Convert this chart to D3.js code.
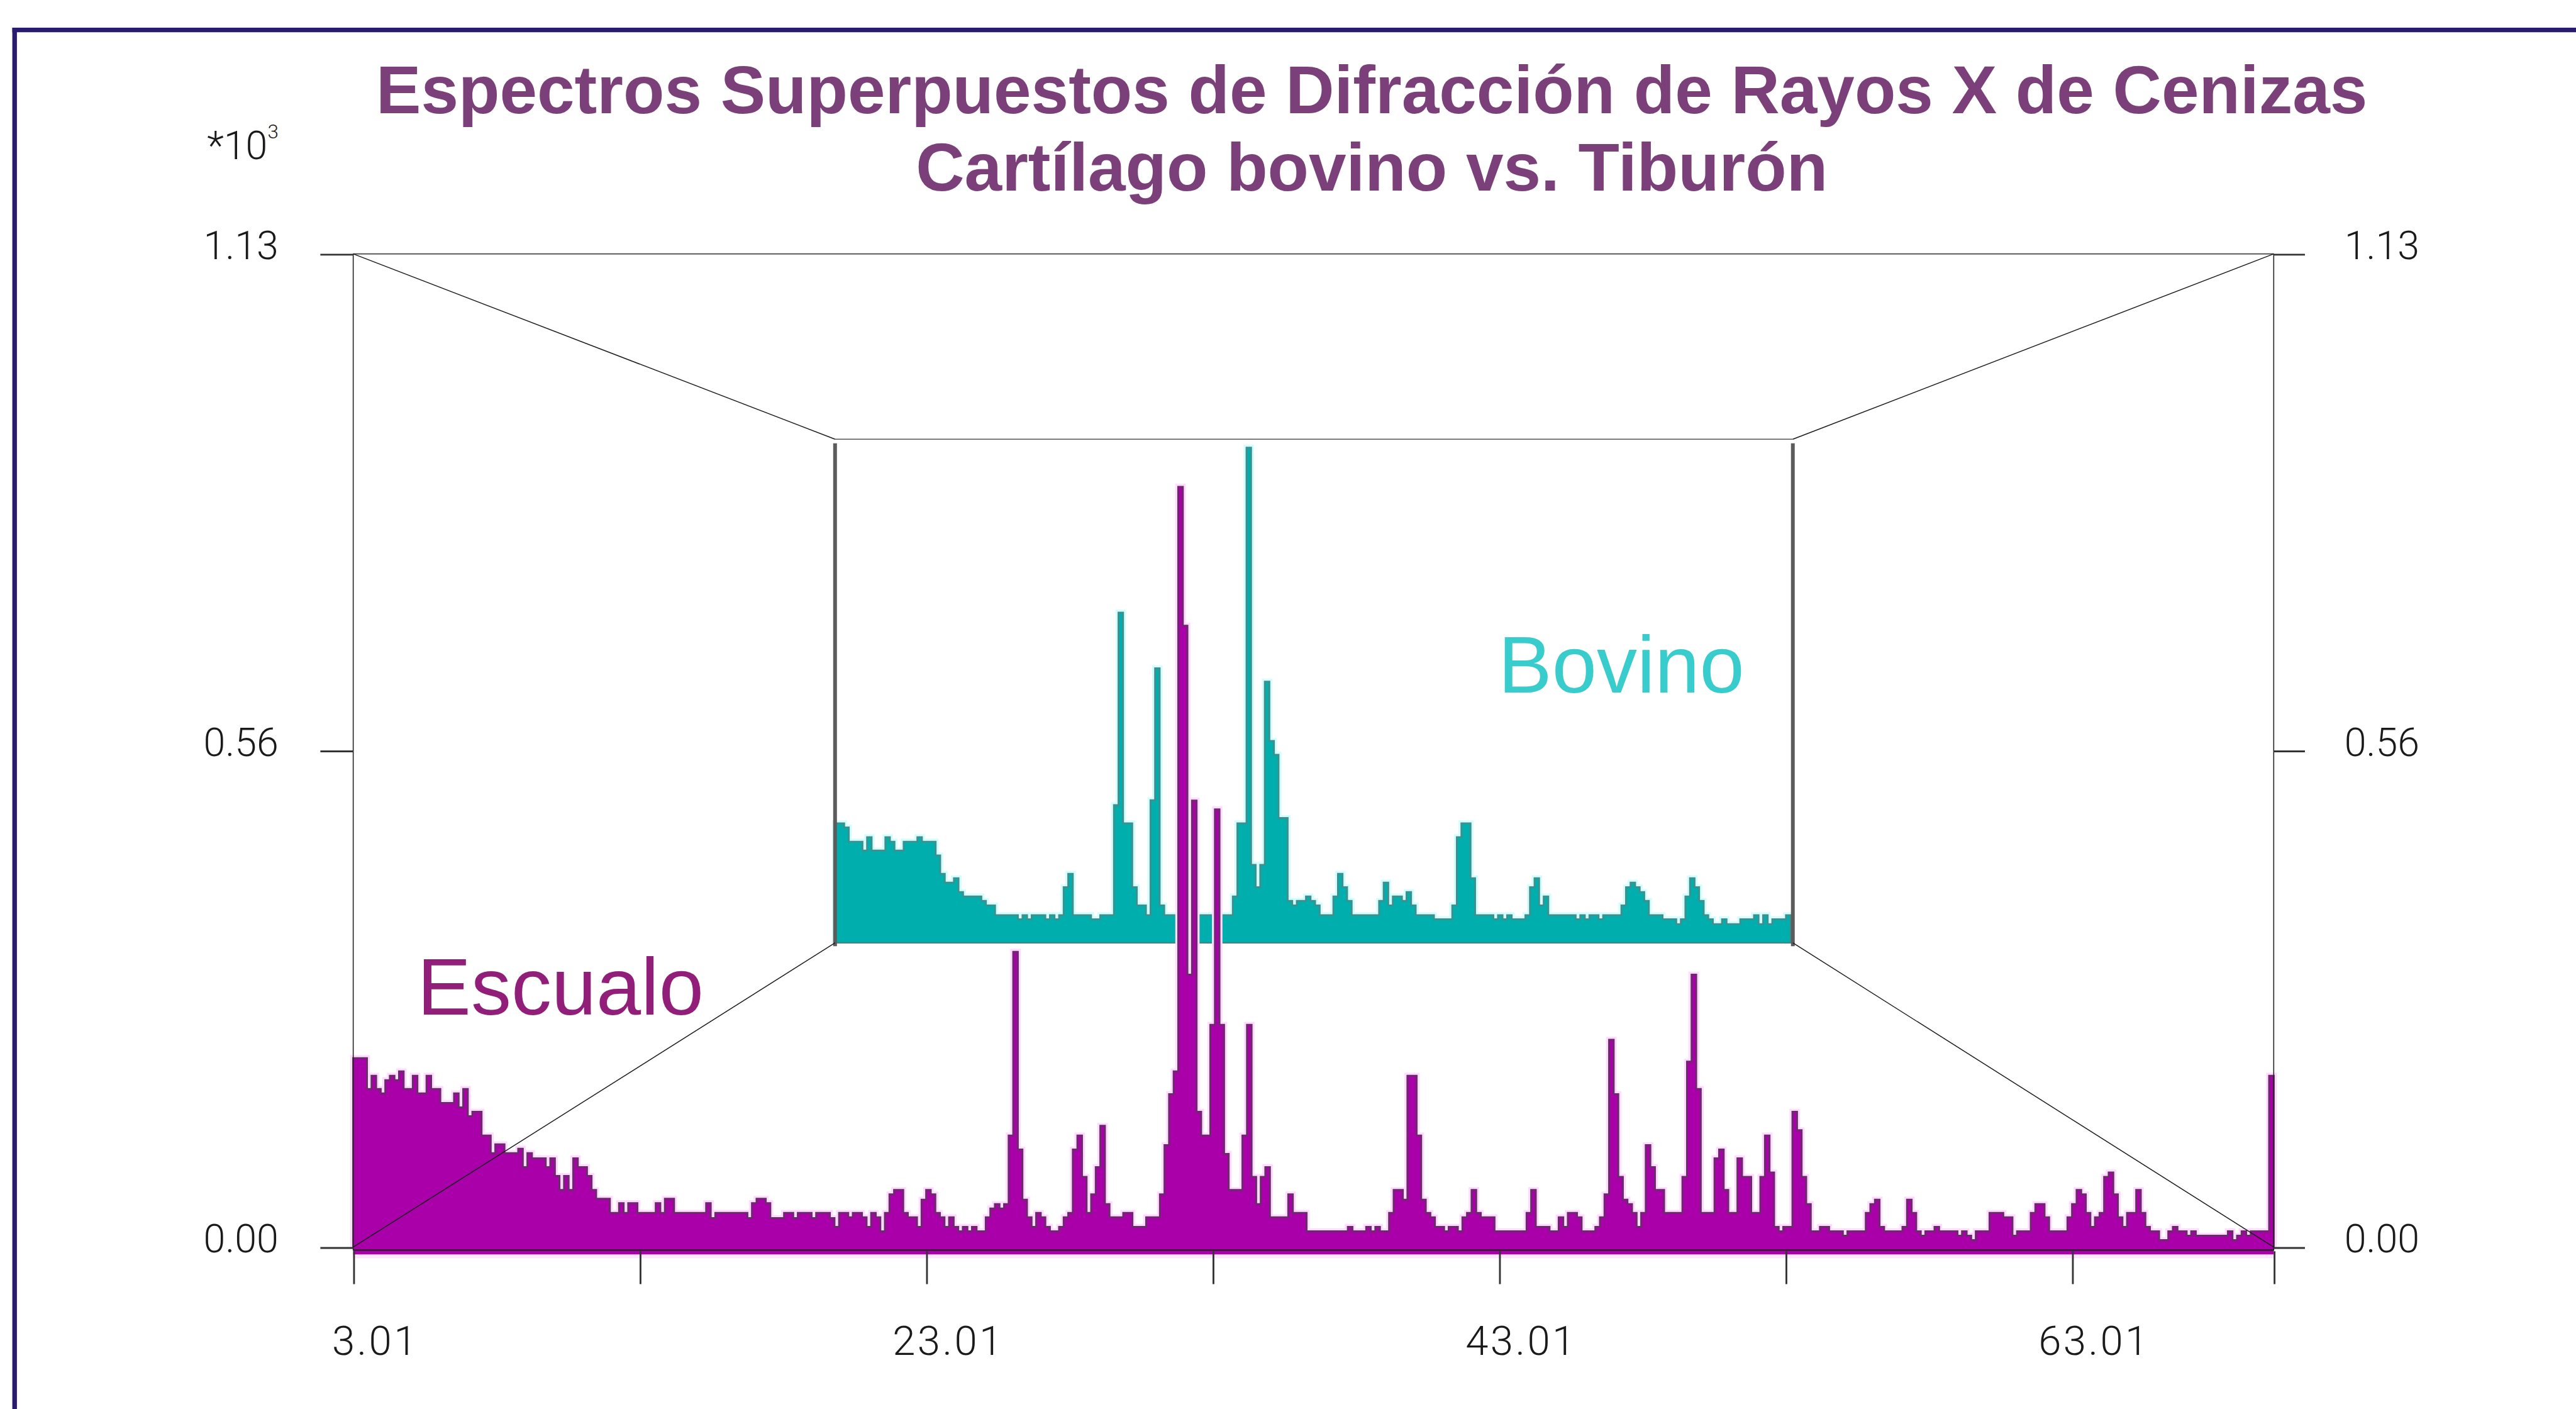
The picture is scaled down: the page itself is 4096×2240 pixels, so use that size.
<!DOCTYPE html>
<html>
<head>
<meta charset="utf-8">
<script src="https://cdn.jsdelivr.net/npm/d3@7"></script>
<style>
  html, body { margin: 0; padding: 0; background: #ffffff; overflow: hidden; }
  svg { display: block; }
</style>
</head>
<body>
<svg id="chart" width="4096" height="2240"></svg>
<script>
// ---- 2-theta sampling ----
const twoThetaStart = 3.01;
const twoThetaEnd = 70.05;
const escualoStep = 0.16;   // degrees per channel, front spectrum
const bovinoStep = 0.32;    // degrees per channel, rear spectrum

// ---- intensities (counts x 10^3) ----
const escualo = [
  .215,.215,.215,.180,.195,.180,.175,.190,.195,.190,.200,.180,.180,.195,.175,.175,.195,.180,.180,.164,
  .164,.164,.175,.159,.180,.149,.154,.154,.127,.127,.107,.117,.117,.107,.107,.107,.112,.091,.107,.101,
  .101,.101,.091,.101,.081,.065,.081,.065,.101,.091,.091,.081,.065,.055,.055,.055,.039,.039,.050,.039,
  .050,.050,.039,.039,.039,.039,.050,.039,.055,.055,.039,.039,.039,.039,.039,.039,.039,.050,.033,.039,
  .039,.039,.039,.039,.039,.039,.033,.050,.055,.055,.050,.033,.033,.033,.039,.039,.033,.039,.039,.039,
  .033,.039,.039,.039,.033,.023,.039,.039,.034,.039,.039,.034,.023,.039,.034,.018,.039,.060,.065,.065,
  .039,.034,.034,.023,.054,.065,.060,.039,.034,.023,.034,.023,.018,.023,.018,.023,.018,.018,.034,.044,
  .049,.044,.049,.127,.336,.111,.054,.034,.023,.039,.034,.023,.018,.018,.023,.034,.039,.111,.127,.080,
  .039,.060,.091,.138,.049,.034,.034,.034,.039,.039,.023,.023,.023,.034,.034,.034,.060,.116,.174,.200,
  .865,.707,.310,.508,.154,.127,.127,.253,.498,.253,.106,.065,.065,.065,.127,.253,.080,.049,.080,.091,
  .034,.034,.034,.034,.060,.039,.039,.039,.018,.018,.018,.018,.018,.018,.018,.018,.018,.023,.018,.018,
  .018,.023,.018,.023,.018,.018,.039,.065,.065,.054,.195,.195,.127,.054,.039,.034,.023,.023,.018,.023,
  .023,.018,.034,.039,.065,.039,.034,.034,.034,.018,.018,.018,.018,.018,.018,.018,.039,.065,.023,.023,
  .023,.018,.018,.034,.023,.039,.039,.034,.018,.018,.018,.023,.034,.060,.236,.174,.080,.054,.049,.039,
  .023,.039,.116,.091,.065,.065,.039,.039,.039,.039,.080,.211,.310,.180,.039,.039,.039,.101,.111,.065,
  .039,.039,.101,.080,.080,.039,.039,.080,.127,.085,.023,.018,.023,.023,.154,.133,.080,.049,.018,.018,
  .023,.023,.018,.018,.018,.013,.018,.018,.018,.018,.039,.049,.054,.023,.018,.018,.018,.018,.023,.054,
  .039,.018,.013,.018,.018,.023,.018,.018,.018,.018,.013,.018,.013,.008,.018,.018,.018,.039,.039,.039,
  .034,.034,.013,.018,.018,.018,.039,.049,.049,.034,.018,.018,.018,.018,.034,.049,.065,.060,.039,.023,
  .034,.039,.080,.085,.060,.034,.023,.039,.039,.065,.039,.023,.018,.018,.008,.008,.018,.023,.018,.018,
  .013,.018,.013,.013,.013,.013,.013,.013,.013,.018,.008,.013,.018,.013,.018,.018,.018,.018,.195
];

const bovino = [
  .268,.268,.259,.227,.227,.227,.207,.237,.207,.207,.207,.237,.227,.207,.207,.227,.227,.227,.237,.227,
  .227,.227,.196,.155,.135,.135,.145,.114,.104,.104,.104,.104,.094,.084,.084,.062,.062,.062,.062,.062,
  .053,.062,.053,.062,.062,.062,.053,.062,.053,.062,.125,.155,.062,.062,.062,.062,.053,.053,.062,.062,
  .062,.309,.741,.268,.268,.125,.084,.084,.062,.320,.616,.084,.062,.062,.062,.062,.062,.062,.062,.062,
  .062,.062,.062,.062,.062,.062,.062,.104,.268,.268,1.111,.175,.125,.175,.586,.453,.422,.280,.280,.094,
  .084,.094,.094,.104,.094,.084,.062,.062,.062,.104,.155,.125,.094,.062,.062,.062,.062,.062,.062,.094,
  .135,.084,.104,.104,.094,.114,.084,.062,.062,.062,.062,.053,.053,.053,.053,.084,.237,.268,.268,.145,
  .062,.062,.062,.062,.053,.062,.053,.062,.053,.053,.053,.062,.125,.145,.084,.104,.062,.062,.062,.062,
  .062,.062,.053,.062,.053,.062,.062,.053,.062,.062,.062,.062,.084,.125,.135,.125,.114,.094,.062,.062,
  .062,.053,.053,.053,.042,.053,.104,.145,.125,.094,.062,.053,.042,.042,.053,.042,.042,.042,.053,.053,
  .053,.062,.042,.062,.042,.053,.053,.053,.062
];

// ---- axis ticks ----
const xTickValues = [3.01, 13.01, 23.01, 33.01, 43.01, 53.01, 63.01, 70.05];
const xTickLabels = ["3.01", "", "23.01", "", "43.01", "", "63.01", ""];
const yTickValues = [0, 0.565, 1.13];
const yTickLabels = ["0.00", "0.56", "1.13"];

// ---- texts ----
const titleLines = [
  "Espectros Superpuestos de Difracción de Rayos X de Cenizas",
  "Cartílago bovino vs. Tiburón"
];
const seriesNames = { front: "Escualo", back: "Bovino" };

// ---- layout (drawing units, scaled to the page by K) ----
const K = 4096 / 1568;
const svg = d3.select("#chart");
const root = svg.append("g").attr("transform", `scale(${K})`);

const xFront = d3.scaleLinear().domain([twoThetaStart, twoThetaEnd]).range([215, 1384]);
const yFront = d3.scaleLinear().domain([0, 1.13]).range([759, 154.5]);
const xBack  = d3.scaleLinear().domain([twoThetaStart, twoThetaEnd]).range([508.3, 1091.3]);
const yBack  = d3.scaleLinear().domain([0, 1.13]).range([573.8, 267.3]);

const tickFont = "Roboto, 'Open Sans', 'DejaVu Sans', sans-serif";
const sansFont = "'Liberation Sans', Arial, Helvetica, sans-serif";

// ---- outer frame ----
root.append("line").attr("x1", 8.9).attr("x2", 8.9).attr("y1", 16.8).attr("y2", 860)
  .attr("stroke", "#2a1a70").attr("stroke-width", 2.8);
root.append("line").attr("x1", 7.5).attr("x2", 1570).attr("y1", 18.2).attr("y2", 18.2)
  .attr("stroke", "#2a1a70").attr("stroke-width", 2.8);

// ---- title ----
const title = root.append("text")
  .attr("text-anchor", "middle")
  .attr("font-family", sansFont).attr("font-weight", 700).attr("font-size", 41)
  .attr("fill", "#7b4079");
title.append("tspan").attr("x", 835).attr("y", 69).text(titleLines[0]);
title.append("tspan").attr("x", 835).attr("y", 116).text(titleLines[1]);

// ---- step helpers ----
function stepPoints(values, step) {
  const pts = values.map((v, i) => ({ t: twoThetaStart + i * step, v }));
  pts.push({ t: twoThetaStart + values.length * step, v: values[values.length - 1] });
  return pts;
}
function outlinePoints(pts) {
  return [{ t: pts[0].t, v: 0 }, ...pts, { t: pts[pts.length - 1].t, v: 0 }];
}

// ---- rear spectrum (Bovino) ----
const bovPts = stepPoints(bovino, bovinoStep);
const bovArea = d3.area().curve(d3.curveStepAfter)
  .x(d => xBack(d.t)).y0(yBack(0)).y1(d => yBack(d.v));
const bovLine = d3.line().curve(d3.curveStepAfter)
  .x(d => xBack(d.t)).y(d => yBack(d.v));

const back = root.append("g");
back.append("path").attr("d", bovLine(outlinePoints(bovPts)))
  .attr("fill", "none").attr("stroke", "#d4fdfd").attr("stroke-width", 3.6)
  .attr("stroke-linejoin", "miter");
back.append("path").attr("d", bovArea(bovPts)).attr("fill", "#00aeae");
back.append("path").attr("d", bovLine(outlinePoints(bovPts)))
  .attr("fill", "none").attr("stroke", "#3f8f8c").attr("stroke-width", 1.1);
back.append("line")
  .attr("x1", xBack(twoThetaStart)).attr("x2", xBack(twoThetaEnd))
  .attr("y1", yBack(0)).attr("y2", yBack(0))
  .attr("stroke", "#3b8886").attr("stroke-width", 0.9);

// rear panel edges
back.append("line")
  .attr("x1", xBack(twoThetaStart)).attr("x2", xBack(twoThetaEnd))
  .attr("y1", yBack(1.13)).attr("y2", yBack(1.13))
  .attr("stroke", "#555", "").attr("stroke-width", 0.6);
[twoThetaStart, twoThetaEnd].forEach(t => {
  back.append("line")
    .attr("x1", xBack(t)).attr("x2", xBack(t))
    .attr("y1", yBack(1.13) + 2.5).attr("y2", yBack(0) + 2)
    .attr("stroke", "#5c5c5c").attr("stroke-width", 2.3);
});

// ---- front spectrum (Escualo) ----
const escPts = stepPoints(escualo, escualoStep);
const escArea = d3.area().curve(d3.curveStepAfter)
  .x(d => xFront(d.t)).y0(yFront(0) + 4.4).y1(d => yFront(d.v));
const escLine = d3.line().curve(d3.curveStepAfter)
  .x(d => xFront(d.t)).y(d => yFront(d.v));

const front = root.append("g");
front.append("path").attr("d", escLine(outlinePoints(escPts)))
  .attr("fill", "none").attr("stroke", "#ffdcff").attr("stroke-width", 3.6);
front.append("rect")
  .attr("x", xFront(twoThetaStart)).attr("width", xFront(twoThetaEnd) - xFront(twoThetaStart))
  .attr("y", yFront(0) + 4.4).attr("height", 2.4).attr("fill", "#ffe6ff");
front.append("path").attr("d", escArea(escPts)).attr("fill", "#aa00aa");
front.append("path").attr("d", escLine(outlinePoints(escPts)))
  .attr("fill", "none").attr("stroke", "#6c2a6c").attr("stroke-width", 1.15);

// ---- front panel frame and perspective edges ----
const frame = root.append("g").attr("fill", "none");
frame.append("line")
  .attr("x1", xFront(twoThetaStart)).attr("x2", xFront(twoThetaEnd))
  .attr("y1", yFront(1.13)).attr("y2", yFront(1.13))
  .attr("stroke", "#444").attr("stroke-width", 0.6);
[twoThetaStart, twoThetaEnd].forEach(t => {
  frame.append("line")
    .attr("x1", xFront(t)).attr("x2", xFront(t))
    .attr("y1", yFront(1.13)).attr("y2", yFront(0) + 2)
    .attr("stroke", "#222").attr("stroke-width", 0.6);
});
[[twoThetaStart, 1.13], [twoThetaEnd, 1.13], [twoThetaStart, 0], [twoThetaEnd, 0]].forEach(([t, v]) => {
  frame.append("line")
    .attr("x1", xFront(t)).attr("y1", yFront(v))
    .attr("x2", xBack(t)).attr("y2", yBack(v))
    .attr("stroke", "#1a1a1a").attr("stroke-width", 0.55);
});
// base line of the front panel
frame.append("line")
  .attr("x1", xFront(twoThetaStart)).attr("x2", xFront(twoThetaEnd))
  .attr("y1", yFront(0) + 1.8).attr("y2", yFront(0) + 1.8)
  .attr("stroke", "#222").attr("stroke-width", 0.8);

// ---- axes ----
function styleAxis(sel) {
  sel.select(".domain").remove();
  sel.selectAll(".tick line").attr("stroke", "#333").attr("stroke-width", 1.1);
  sel.selectAll(".tick text")
    .attr("fill", "#1a1a1a")
    .attr("font-family", tickFont).attr("font-weight", 300);
}

const xAxis = d3.axisBottom(xFront)
  .tickValues(xTickValues)
  .tickSize(20)
  .tickFormat((d, i) => xTickLabels[i]);
root.append("g")
  .attr("transform", `translate(0,${yFront(0) + 2.5})`)
  .call(xAxis)
  .call(styleAxis)
  .call(s => s.selectAll(".tick text")
    .attr("font-size", 25).attr("letter-spacing", 1.3)
    .attr("y", 63).attr("dy", null).attr("dx", 13));

const yAxisLeft = d3.axisLeft(yFront)
  .tickValues(yTickValues).tickSize(20)
  .tickFormat((d, i) => yTickLabels[i]);
root.append("g")
  .attr("transform", `translate(${xFront(twoThetaStart)},0)`)
  .call(yAxisLeft)
  .call(styleAxis)
  .call(s => s.selectAll(".tick text")
    .attr("font-size", 24).attr("x", -45.5).attr("dy", 2.8));

const yAxisRight = d3.axisRight(yFront)
  .tickValues(yTickValues).tickSize(19)
  .tickFormat((d, i) => yTickLabels[i]);
root.append("g")
  .attr("transform", `translate(${xFront(twoThetaEnd)},0)`)
  .call(yAxisRight)
  .call(styleAxis)
  .call(s => s.selectAll(".tick text")
    .attr("font-size", 24).attr("x", 43).attr("dy", 2.8));

// unit multiplier above the left axis
const unit = root.append("text")
  .attr("x", 169.5).attr("y", 96.7)
  .attr("text-anchor", "end")
  .attr("font-family", tickFont).attr("font-weight", 300)
  .attr("font-size", 24).attr("fill", "#1a1a1a");
unit.append("tspan").text("*10");
unit.append("tspan").attr("font-size", 12).attr("dy", -12.5).text("3");

// ---- series names ----
root.append("text")
  .attr("x", 254).attr("y", 617.6)
  .attr("font-family", sansFont).attr("font-size", 49)
  .attr("fill", "#911e78")
  .text(seriesNames.front);
root.append("text")
  .attr("x", 912).attr("y", 421.4)
  .attr("font-family", sansFont).attr("font-size", 49)
  .attr("fill", "#38cccc")
  .text(seriesNames.back);
</script>
</body>
</html>
